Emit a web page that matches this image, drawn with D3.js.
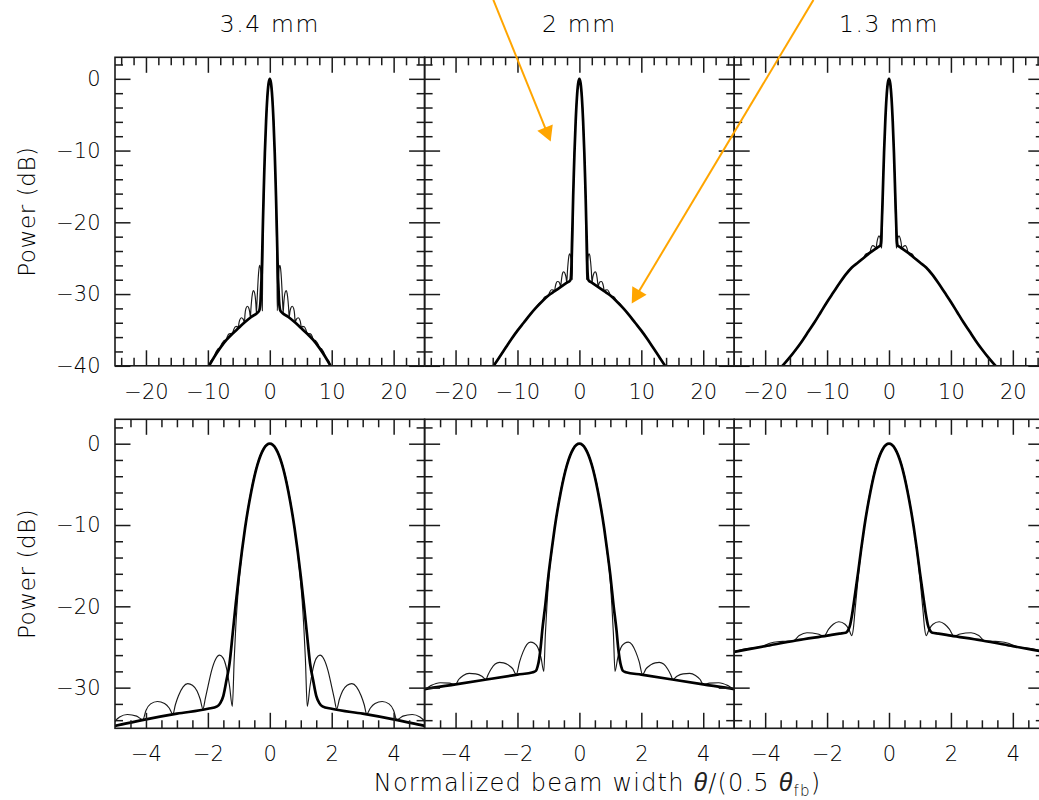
<!DOCTYPE html>
<html><head><meta charset="utf-8">
<script src="https://cdn.jsdelivr.net/npm/d3@7"></script>
<style>
html,body{margin:0;padding:0;background:#fff;}
svg{display:block;}
text{font-family:"DejaVu Sans",sans-serif;font-weight:200;fill:#000;}
</style></head><body>
<svg id="chart" width="1039" height="800"></svg>
<script>
// ---------- DATA ----------
const panelTitles = ["3.4 mm", "2 mm", "1.3 mm"];
const yTitle = "Power (dB)";

const topXMajor = [-20, -10, 0, 10, 20];
const topXMinor = [-24, -22, -18, -16, -14, -12, -8, -6, -4, -2, 2, 4, 6, 8, 12, 14, 16, 18, 22, 24];
const topYMajor = [0, -10, -20, -30, -40];
const topYMinor = [2, -2, -4, -6, -8, -12, -14, -16, -18, -22, -24, -26, -28, -32, -34, -36, -38];
const botXMajor = [-4, -2, 0, 2, 4];
const botXMinor = [-4.5, -3.5, -3, -2.5, -1.5, -1, -0.5, 0.5, 1, 1.5, 2.5, 3, 3.5, 4.5];
const botYMajor = [0, -10, -20, -30];
const botYMinor = [2, -2, -4, -6, -8, -12, -14, -16, -18, -22, -24, -26, -28, -32, -34];

// 3.4 mm : thin (with sidelobes) and thick (smooth model)
const thin34 = [
 [-11,-41.9],[-10.5,-40.8],[-10.0,-40.3],[-9.51,-39.3],[-9.02,-38.83],[-8.8,-38.3],[-8.53,-37.85],[-8.3,-37.6],[-8.04,-37.55],
 [-7.8,-37.0],[-7.55,-36.65],[-7.3,-36.45],[-7.06,-36.47],[-6.85,-35.9],[-6.57,-35.55],[-6.3,-35.5],[-6.07,-35.56],
 [-5.85,-35.0],[-5.58,-34.55],[-5.3,-34.5],[-5.08,-34.7],[-5.0,-34.15],[-4.85,-33.6],[-4.6,-33.3],[-4.3,-33.5],[-4.1,-33.95],
 [-4.0,-32.8],[-3.85,-32.0],[-3.63,-31.7],[-3.4,-31.95],[-3.25,-32.5],[-3.13,-33.25],
 [-3.05,-32.1],[-2.95,-31.0],[-2.8,-29.9],[-2.65,-29.5],[-2.5,-29.7],[-2.35,-30.4],[-2.25,-31.4],[-2.16,-32.6],
 [-2.08,-31.3],[-2.0,-29.9],[-1.88,-27.9],[-1.75,-26.5],[-1.62,-26.0],[-1.5,-26.4],[-1.4,-27.6],[-1.3,-29.8],[-1.21,-32.3],
 [-1.15,-26.5],[-1.1,-22.6],[-1.05,-19.6],[-1.0,-17.2],[-0.9,-13.4],[-0.8,-10.4],[-0.6,-5.7],[-0.4,-2.5],[-0.2,-0.6],
 [0,0],
 [0.2,-0.6],[0.4,-2.5],[0.6,-5.7],[0.8,-10.4],[0.9,-13.4],[1.0,-17.2],[1.05,-19.6],[1.1,-22.6],[1.15,-26.5],
 [1.21,-32.3],[1.3,-29.8],[1.4,-27.6],[1.5,-26.4],[1.62,-26.0],[1.75,-26.5],[1.88,-27.9],[2.0,-29.9],[2.08,-31.3],
 [2.16,-32.6],[2.25,-31.4],[2.35,-30.4],[2.5,-29.7],[2.65,-29.5],[2.8,-29.9],[2.95,-31.0],[3.05,-32.1],
 [3.13,-33.25],[3.25,-32.5],[3.4,-31.95],[3.63,-31.7],[3.85,-32.0],[4.0,-32.8],
 [4.1,-33.95],[4.3,-33.5],[4.6,-33.3],[4.85,-33.6],[5.0,-34.15],[5.08,-34.7],[5.3,-34.5],[5.58,-34.55],[5.85,-35.0],
 [6.07,-35.56],[6.3,-35.5],[6.57,-35.55],[6.85,-35.9],[7.06,-36.47],[7.3,-36.45],[7.55,-36.65],[7.8,-37.0],
 [8.04,-37.55],[8.3,-37.6],[8.53,-37.85],[8.8,-38.3],[9.02,-38.83],[9.51,-39.3],[10.0,-40.3],[10.5,-40.8],[11,-41.9]
];
const thick34 = [
 [-11,-41.9],[-10,-40.3],[-9,-38.8],[-8,-37.5],[-7,-36.4],[-6,-35.5],[-5,-34.7],[-4,-33.9],[-3,-33.2],[-2,-32.6],
 [-1.7,-32.3],[-1.6,-31.9],[-1.5,-31.0],[-1.4,-29.1],[-1.3,-27.0],[-1.2,-23.4],[-1.1,-19.7],[-1.0,-16.3],[-0.9,-13.2],
 [-0.8,-10.4],[-0.6,-5.9],[-0.4,-2.6],[-0.2,-0.65],
 [0,0],
 [0.2,-0.65],[0.4,-2.6],[0.6,-5.9],[0.8,-10.4],[0.9,-13.2],[1.0,-16.3],[1.1,-19.7],[1.2,-23.4],[1.3,-27.0],[1.4,-29.1],
 [1.5,-31.0],[1.6,-31.9],[1.7,-32.3],[2,-32.6],[3,-33.2],[4,-33.9],[5,-34.7],[6,-35.5],[7,-36.4],[8,-37.5],[9,-38.8],
 [10,-40.3],[11,-41.9]
];

// 2 mm
const thin2 = [
 [-15,-41.5],[-14,-40.2],[-13,-38.9],[-12,-37.6],[-11,-36.3],[-10,-35.1],[-9,-34.0],[-8,-32.9],[-7.0,-31.9],[-6.5,-31.3],
 [-6.0,-31.0],[-5.75,-30.55],[-5.5,-30.35],[-5.25,-30.3],[-5.0,-30.2],[-4.8,-29.75],[-4.5,-29.4],[-4.2,-29.45],[-4.0,-29.6],
 [-3.9,-29.0],[-3.75,-28.5],[-3.56,-28.25],[-3.35,-28.3],[-3.15,-28.6],[-3.02,-29.0],
 [-2.95,-28.4],[-2.85,-27.7],[-2.72,-27.1],[-2.58,-26.9],[-2.45,-26.95],[-2.3,-27.2],[-2.15,-27.7],[-2.04,-28.4],
 [-1.93,-26.8],[-1.82,-25.6],[-1.7,-24.7],[-1.58,-24.4],[-1.46,-24.55],[-1.34,-25.1],[-1.24,-26.3],[-1.15,-28.0],
 [-1.1,-23.5],[-1.05,-20.0],[-1.0,-17.0],[-0.9,-13.4],[-0.8,-10.4],[-0.6,-5.7],[-0.4,-2.5],[-0.2,-0.6],
 [0,0],
 [0.2,-0.6],[0.4,-2.5],[0.6,-5.7],[0.8,-10.4],[0.9,-13.4],[1.0,-17.0],[1.05,-20.0],[1.1,-23.5],
 [1.15,-28.0],[1.24,-26.3],[1.34,-25.1],[1.46,-24.55],[1.58,-24.4],[1.7,-24.7],[1.82,-25.6],[1.93,-26.8],
 [2.04,-28.4],[2.15,-27.7],[2.3,-27.2],[2.45,-26.95],[2.58,-26.9],[2.72,-27.1],[2.85,-27.7],[2.95,-28.4],
 [3.02,-29.0],[3.15,-28.6],[3.35,-28.3],[3.56,-28.25],[3.75,-28.5],[3.9,-29.0],
 [4.0,-29.6],[4.2,-29.45],[4.5,-29.4],[4.8,-29.75],[5.0,-30.2],[5.25,-30.3],[5.5,-30.35],[5.75,-30.55],
 [6.0,-31.0],[6.5,-31.3],[7.0,-31.9],[8,-32.9],[9,-34.0],[10,-35.1],[11,-36.3],[12,-37.6],[13,-38.9],[14,-40.2],[15,-41.5]
];
const thick2 = [
 [-15,-41.5],[-14,-40.2],[-13,-38.9],[-12,-37.6],[-11,-36.3],[-10,-35.1],[-9,-34.0],[-8,-32.9],[-7,-31.9],[-6,-31.0],
 [-5,-30.2],[-4,-29.6],[-3,-29.0],[-2,-28.4],[-1.5,-28.1],[-1.4,-27.9],[-1.35,-27.4],[-1.3,-26.5],[-1.25,-25.0],
 [-1.2,-23.0],[-1.1,-19.8],[-1.0,-16.2],[-0.9,-13.2],[-0.8,-10.4],[-0.6,-5.9],[-0.4,-2.6],[-0.2,-0.65],
 [0,0],
 [0.2,-0.65],[0.4,-2.6],[0.6,-5.9],[0.8,-10.4],[0.9,-13.2],[1.0,-16.2],[1.1,-19.8],[1.2,-23.0],[1.25,-25.0],
 [1.3,-26.5],[1.35,-27.4],[1.4,-27.9],[1.5,-28.1],[2,-28.4],[3,-29.0],[4,-29.6],[5,-30.2],[6,-31.0],[7,-31.9],
 [8,-32.9],[9,-34.0],[10,-35.1],[11,-36.3],[12,-37.6],[13,-38.9],[14,-40.2],[15,-41.5]
];

// 1.3 mm
const thin13 = [
 [-19,-41.5],[-18,-40.7],[-17,-39.8],[-16,-38.8],[-15,-37.7],[-14,-36.5],[-13,-35.2],[-12,-33.9],[-11,-32.5],[-10,-31.1],
 [-9,-29.8],[-8,-28.5],[-7,-27.3],[-6,-26.3],[-5.1,-25.65],[-4.6,-25.2],[-4.1,-24.95],[-3.85,-24.55],[-3.6,-24.35],
 [-3.35,-24.3],[-3.1,-24.25],[-2.9,-23.6],[-2.65,-23.25],[-2.3,-23.4],[-2.1,-23.65],
 [-1.95,-22.8],[-1.8,-22.2],[-1.62,-21.9],[-1.42,-22.2],[-1.3,-22.8],[-1.2,-23.6],
 [-1.15,-22.7],[-1.1,-20.6],[-1.05,-18.6],[-1.0,-16.6],[-0.9,-13.2],[-0.8,-10.3],[-0.6,-5.7],[-0.4,-2.5],[-0.2,-0.6],
 [0,0],
 [0.2,-0.6],[0.4,-2.5],[0.6,-5.7],[0.8,-10.3],[0.9,-13.2],[1.0,-16.6],[1.05,-18.6],[1.1,-20.6],[1.15,-22.7],
 [1.2,-23.6],[1.3,-22.8],[1.42,-22.2],[1.62,-21.9],[1.8,-22.2],[1.95,-22.8],
 [2.1,-23.65],[2.3,-23.4],[2.65,-23.25],[2.9,-23.6],[3.1,-24.25],[3.35,-24.3],[3.6,-24.35],[3.85,-24.55],
 [4.1,-24.95],[4.6,-25.2],[5.1,-25.65],[6,-26.3],[7,-27.3],[8,-28.5],[9,-29.8],[10,-31.1],[11,-32.5],[12,-33.9],
 [13,-35.2],[14,-36.5],[15,-37.7],[16,-38.8],[17,-39.8],[18,-40.7],[19,-41.5]
];
const thick13 = [
 [-19,-41.5],[-18,-40.7],[-17,-39.8],[-16,-38.8],[-15,-37.7],[-14,-36.5],[-13,-35.2],[-12,-33.9],[-11,-32.5],[-10,-31.1],
 [-9,-29.8],[-8,-28.5],[-7,-27.3],[-6,-26.3],[-5,-25.6],[-4,-24.9],[-3,-24.2],[-2,-23.6],[-1.6,-23.35],[-1.4,-23.25],
 [-1.35,-23.1],[-1.3,-22.8],[-1.25,-22.2],[-1.2,-21.2],[-1.1,-18.6],[-1.0,-15.9],[-0.9,-13.0],[-0.8,-10.3],[-0.6,-5.9],
 [-0.4,-2.6],[-0.2,-0.65],
 [0,0],
 [0.2,-0.65],[0.4,-2.6],[0.6,-5.9],[0.8,-10.3],[0.9,-13.0],[1.0,-15.9],[1.1,-18.6],[1.2,-21.2],[1.25,-22.2],[1.3,-22.8],
 [1.35,-23.1],[1.4,-23.25],[1.6,-23.35],[2,-23.6],[3,-24.2],[4,-24.9],[5,-25.6],[6,-26.3],[7,-27.3],[8,-28.5],
 [9,-29.8],[10,-31.1],[11,-32.5],[12,-33.9],[13,-35.2],[14,-36.5],[15,-37.7],[16,-38.8],[17,-39.8],[18,-40.7],[19,-41.5]
];

const thinSeries = [thin34, thin2, thin13];
const thickSeries = [thick34, thick2, thick13];

// orange arrows, in data coordinates of the top "2 mm" panel: [x, dB]
const arrowFrom = [[-13.9, 11.0], [37.8, 11.0]];
const arrowTo = [[-4.64, -8.74], [8.45, -31.3]];

// ---------- LAYOUT ----------
const svg = d3.select("#chart");
const panelLeft = [115, 424.6, 734.2];
const panelW = 309.6;
const rows = [
  {top: 57.3, bottom: 365.8, xDomain: [-25, 25], yDomain: [-40, 3],
   xMajor: topXMajor, xMinor: topXMinor, yMajor: topYMajor, yMinor: topYMinor},
  {top: 419.3, bottom: 728.3, xDomain: [-5, 5], yDomain: [-35, 3],
   xMajor: botXMajor, xMinor: botXMinor, yMajor: botYMajor, yMinor: botYMinor}
];
const fmt = d => d3.format("d")(d).replace("-", "\u2212");
const INK = "#1a1a1a";
const majorLen = 15.5, minorLen = 8;
const FONT = "DejaVu Sans, sans-serif";

const line = (x, y) => d3.line().x(d => x(d[0])).y(d => y(d[1])).curve(d3.curveMonotoneX);

let scalesTop2 = null;

rows.forEach((r, ri) => {
  panelLeft.forEach((L, pi) => {
    const x = d3.scaleLinear().domain(r.xDomain).range([L, L + panelW]);
    const y = d3.scaleLinear().domain(r.yDomain).range([r.bottom, r.top]);
    if (ri === 0 && pi === 1) scalesTop2 = {x, y};

    const cid = `clip-${ri}-${pi}`;
    svg.append("clipPath").attr("id", cid).append("rect")
      .attr("x", L).attr("y", r.top).attr("width", panelW).attr("height", r.bottom - r.top);

    const g = svg.append("g").attr("clip-path", `url(#${cid})`);
    g.append("path").datum(thinSeries[pi]).attr("d", line(x, y))
      .attr("fill", "none").attr("stroke", INK).attr("stroke-width", 1.15);
    g.append("path").datum(thickSeries[pi]).attr("d", line(x, y))
      .attr("fill", "none").attr("stroke", "#000").attr("stroke-width", 2.7)
      .attr("stroke-linejoin", "round");

    const styleAxis = (sel) => {
      sel.attr("color", INK).attr("font-family", FONT).attr("font-size", 21).attr("font-weight", 200);
      sel.select(".domain").remove();
      sel.selectAll("line").attr("stroke-width", 1.5);
      sel.selectAll("text").attr("fill", "#000");
    };
    // bottom
    svg.append("g").attr("transform", `translate(0,${r.bottom})`)
      .call(d3.axisBottom(x).tickValues(r.xMajor).tickSize(-majorLen).tickPadding(18).tickFormat(fmt)).call(styleAxis);
    svg.append("g").attr("transform", `translate(0,${r.bottom})`)
      .call(d3.axisBottom(x).tickValues(r.xMinor).tickSize(-minorLen).tickFormat("")).call(styleAxis);
    // top
    svg.append("g").attr("transform", `translate(0,${r.top})`)
      .call(d3.axisTop(x).tickValues(r.xMajor).tickSize(-majorLen).tickFormat("")).call(styleAxis);
    svg.append("g").attr("transform", `translate(0,${r.top})`)
      .call(d3.axisTop(x).tickValues(r.xMinor).tickSize(-minorLen).tickFormat("")).call(styleAxis);
    // left
    svg.append("g").attr("transform", `translate(${L},0)`)
      .call(d3.axisLeft(y).tickValues(r.yMajor).tickSize(-majorLen).tickPadding(14.5)
        .tickFormat(pi === 0 ? fmt : "")).call(styleAxis);
    svg.append("g").attr("transform", `translate(${L},0)`)
      .call(d3.axisLeft(y).tickValues(r.yMinor).tickSize(-minorLen).tickFormat("")).call(styleAxis);
    // right
    svg.append("g").attr("transform", `translate(${L + panelW},0)`)
      .call(d3.axisRight(y).tickValues(r.yMajor).tickSize(-majorLen).tickFormat("")).call(styleAxis);
    svg.append("g").attr("transform", `translate(${L + panelW},0)`)
      .call(d3.axisRight(y).tickValues(r.yMinor).tickSize(-minorLen).tickFormat("")).call(styleAxis);

    // frame
    svg.append("rect").attr("x", L).attr("y", r.top).attr("width", panelW).attr("height", r.bottom - r.top)
      .attr("fill", "none").attr("stroke", INK).attr("stroke-width", 1.6);

    if (ri === 0) {
      svg.append("text").attr("x", L + panelW / 2).attr("y", 32).attr("text-anchor", "middle")
        .attr("font-size", 23.5).attr("letter-spacing", 1.6).text(panelTitles[pi]);
    }
  });
  svg.append("text")
    .attr("transform", `translate(35,${(r.top + r.bottom) / 2}) rotate(-90)`)
    .attr("text-anchor", "middle").attr("font-size", 23).attr("letter-spacing", 0.6).text(yTitle);
});

// x-axis title
const xt = svg.append("text").attr("x", 597.5).attr("y", 791).attr("text-anchor", "middle")
  .attr("font-size", 24).attr("letter-spacing", 1.2);
xt.append("tspan").text("Normalized beam width ");
xt.append("tspan").attr("font-family", "Liberation Sans, sans-serif").attr("font-style", "italic")
  .attr("font-weight", 400).attr("font-size", 25).attr("fill", "#222").text("\u03B8");
xt.append("tspan").text("/(0.5 ");
xt.append("tspan").attr("font-family", "Liberation Sans, sans-serif").attr("font-style", "italic")
  .attr("font-weight", 400).attr("font-size", 25).attr("fill", "#222").text("\u03B8");
xt.append("tspan").attr("font-size", 15).attr("dy", 5).text("fb");
xt.append("tspan").attr("dy", -5).text(")");

// orange arrows
const ORANGE = "#FFA500";
arrowFrom.forEach((f, i) => {
  const {x, y} = scalesTop2;
  const p0 = [x(f[0]), y(f[1])];
  const p1 = [x(arrowTo[i][0]), y(arrowTo[i][1])];
  const dx = p1[0] - p0[0], dy = p1[1] - p0[1];
  const len = Math.hypot(dx, dy);
  const ux = dx / len, uy = dy / len;
  const headL = 15, headW = 8.3;
  const bx = p1[0] - ux * headL, by = p1[1] - uy * headL;
  svg.append("line").attr("x1", p0[0]).attr("y1", p0[1]).attr("x2", bx + ux * 2).attr("y2", by + uy * 2)
    .attr("stroke", ORANGE).attr("stroke-width", 2);
  svg.append("path")
    .attr("d", `M${p1[0]},${p1[1]}L${bx - uy * headW},${by + ux * headW}L${bx + uy * headW},${by - ux * headW}Z`)
    .attr("fill", ORANGE);
});
</script></body></html>
